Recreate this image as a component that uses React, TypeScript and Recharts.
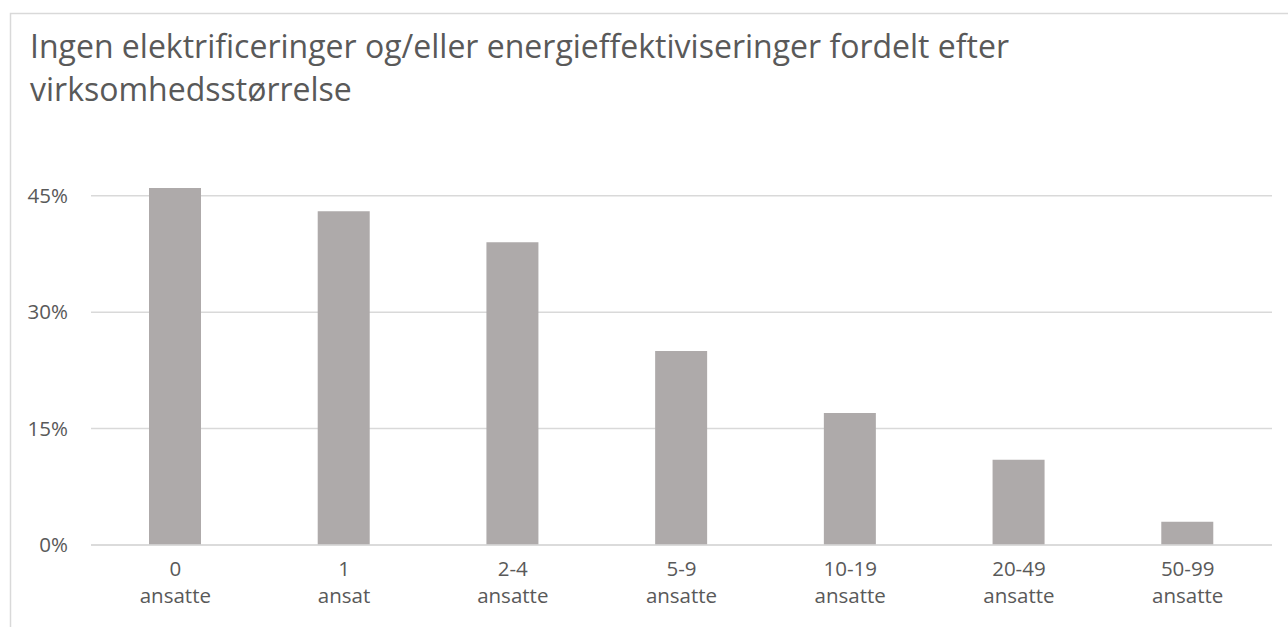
import React from 'react';
import { BarChart, Bar, XAxis, YAxis, CartesianGrid } from 'recharts';

const sizeLabels = ['0', '1', '2-4', '5-9', '10-19', '20-49', '50-99'];
const unitLabels = ['ansatte', 'ansat', 'ansatte', 'ansatte', 'ansatte', 'ansatte', 'ansatte'];
const shareValues = [46, 43, 39, 25, 17, 11, 3];
const yTicks = [0, 15, 30, 45];
const titleLines = [
  'Ingen elektrificeringer og/eller energieffektiviseringer fordelt efter',
  'virksomhedsstørrelse',
];

const data = sizeLabels.map((s, i) => ({
  cat: s + '\n' + unitLabels[i],
  value: shareValues[i],
}));

const FONT = '"Open Sans", "Noto Sans", sans-serif';
const TEXT = '#595959';
const GRID = '#d9d9d9';
const BAR = '#aeaaaa';

const W = 1288;
const H = 627;
const MARGIN = { top: 157, right: 16, left: 31, bottom: 22 };
const YW = 60;

const XTick = (props: any) => {
  const { x, y, payload } = props;
  const [a, b] = String(payload.value).split('\n');
  return (
    <g>
      <text x={x} y={y + 23} textAnchor="middle" fill={TEXT} fontSize={20.5} fontFamily={FONT}>
        {a}
      </text>
      <text x={x} y={y + 50} textAnchor="middle" fill={TEXT} fontSize={20.5} fontFamily={FONT}>
        {b}
      </text>
    </g>
  );
};

const YTick = (props: any) => {
  const { y, payload } = props;
  return (
    <text x={MARGIN.left + 37} y={y} dy="0.35em" textAnchor="end" fill={TEXT} fontSize={20.5} fontFamily={FONT}>
      {payload.value + '%'}
    </text>
  );
};

export default function App() {
  return (
    <div style={{ position: 'relative', width: W, height: H }}>
      <style>{'body{margin:0;overflow:hidden;background:#fff}'}</style>
      <div style={{ position: 'absolute', left: 0, top: 0 }}>
        <BarChart width={W} height={H} data={data} margin={MARGIN}>
          <CartesianGrid vertical={false} stroke={GRID} strokeWidth={1.5} horizontalValues={yTicks} />
          <XAxis
            dataKey="cat"
            axisLine={{ stroke: GRID, strokeWidth: 1.5 }}
            tickLine={false}
            tick={<XTick />}
            height={60}
            interval={0}
          />
          <YAxis
            domain={[0, 50]}
            ticks={yTicks}
            axisLine={false}
            tickLine={false}
            tick={<YTick />}
            width={YW}
          />
          <Bar dataKey="value" fill={BAR} barSize={52} isAnimationActive={false} />
        </BarChart>
      </div>
      <svg
        width={W}
        height={H}
        style={{ position: 'absolute', left: 0, top: 0, pointerEvents: 'none' }}
      >
        <polyline points={`10.5,${H} 10.5,13.5 ${W},13.5`} fill="none" stroke={GRID} strokeWidth={1.5} />
        <text x={30} y={58} fill={TEXT} fontSize={32} fontFamily={FONT}>
          {titleLines[0]}
        </text>
        <text x={30} y={101} fill={TEXT} fontSize={32} fontFamily={FONT}>
          {titleLines[1]}
        </text>
      </svg>
    </div>
  );
}
